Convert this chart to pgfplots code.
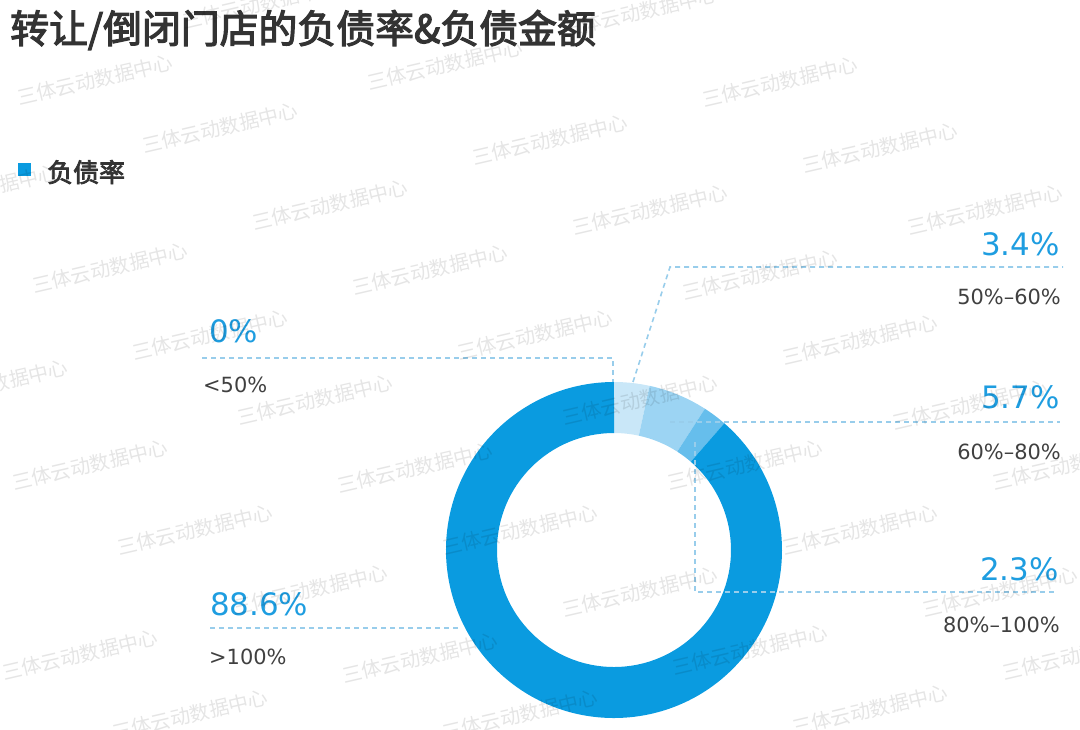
\documentclass[border=0pt]{standalone}
\usepackage{pgfplots}
\pgfplotsset{compat=1.18}
\usepackage{pgfplotstable}
\usepackage{fontspec}
\setmainfont{DejaVu Sans}
\newfontfamily\cjk{Noto Sans CJK SC}
\newfontfamily\cjkmed[FakeBold=3]{Noto Sans CJK SC}

\definecolor{seg0}{HTML}{E6F4FC}
\definecolor{seg1}{HTML}{C9E7F8}
\definecolor{seg2}{HTML}{9CD4F3}
\definecolor{seg3}{HTML}{66BEEC}
\definecolor{seg4}{HTML}{0A9BE0}
\definecolor{numblue}{HTML}{1E9DE0}
\definecolor{labgray}{HTML}{404040}
\definecolor{leader}{HTML}{98CDEB}
\definecolor{titlegray}{HTML}{333333}

% debt ratio of closed stores, share in %
\pgfplotstableread{
share col
0.0  seg0
3.4  seg1
5.7  seg2
2.3  seg3
88.6 seg4
}\debt

\begin{document}
\begin{tikzpicture}
\begin{axis}[
  hide axis, scale only axis,
  width=1080bp, height=730bp,
  xmin=0, xmax=1080, ymin=0, ymax=730,
  y dir=reverse, clip=false,
  ]
  % donut
  \def\cx{614}\def\cy{550}\def\Ro{168}\def\Ri{117}
  \gdef\angacc{90}
  \pgfplotsforeachungrouped \i in {0,...,4}{%
    \pgfplotstablegetelem{\i}{share}\of\debt \let\share\pgfplotsretval
    \pgfplotstablegetelem{\i}{col}\of\debt \let\segcol\pgfplotsretval
    \pgfmathsetmacro\angend{\angacc-3.6*\share}
    \pgfmathsetmacro\xo{\cx+\Ro*cos(\angacc)}
    \pgfmathsetmacro\yo{\cy-\Ro*sin(\angacc)}
    \pgfmathsetmacro\xin{\cx+\Ri*cos(\angend)}
    \pgfmathsetmacro\yin{\cy-\Ri*sin(\angend)}
    \edef\temp{\noexpand\fill[\segcol] (axis cs:\xo,\yo)
      arc[start angle=\angacc, end angle=\angend, radius=\Ro bp]
      -- (axis cs:\xin,\yin)
      arc[start angle=\angend, end angle=\angacc, radius=\Ri bp] -- cycle;}
    \temp
    \xdef\angacc{\angend}
  }

  % leader lines
  \begin{scope}[leader, dash pattern=on 5bp off 4bp, line width=1.6bp]
    \draw (axis cs:202,358) -- (axis cs:613,358) -- (axis cs:613,382);
    \draw (axis cs:633,382) -- (axis cs:670,267) -- (axis cs:1063,267);
    \draw (axis cs:670,422) -- (axis cs:1060,422);
    \draw (axis cs:695,442) -- (axis cs:695,592) -- (axis cs:1058,592);
    \draw (axis cs:210,628) -- (axis cs:462,628);
  \end{scope}

  % values and ranges
  \begin{scope}[inner sep=0pt]
    \node[anchor=base west, numblue, font=\fontsize{31}{32}\selectfont] at (axis cs:209,342) {0\%};
    \node[anchor=base west, labgray, font=\fontsize{21}{22}\selectfont] at (axis cs:203,392) {<50\%};
    \node[anchor=base east, numblue, font=\fontsize{31}{32}\selectfont] at (axis cs:1060,255) {3.4\%};
    \node[anchor=base east, labgray, font=\fontsize{21}{22}\selectfont] at (axis cs:1061,304) {50\%–60\%};
    \node[anchor=base east, numblue, font=\fontsize{31}{32}\selectfont] at (axis cs:1060,408) {5.7\%};
    \node[anchor=base east, labgray, font=\fontsize{21}{22}\selectfont] at (axis cs:1061,459) {60\%–80\%};
    \node[anchor=base east, numblue, font=\fontsize{31}{32}\selectfont] at (axis cs:1059,580) {2.3\%};
    \node[anchor=base east, labgray, font=\fontsize{21}{22}\selectfont] at (axis cs:1060,632) {80\%–100\%};
    \node[anchor=base west, numblue, font=\fontsize{31}{32}\selectfont] at (axis cs:210,615) {88.6\%};
    \node[anchor=base west, labgray, font=\fontsize{21}{22}\selectfont] at (axis cs:209,664) {>100\%};
  \end{scope}

  % title and legend
  \node[anchor=base west, inner sep=0pt, titlegray, font=\cjkmed\fontsize{39}{40}\selectfont]
    at (axis cs:10,43) {转让/倒闭门店的负债率\&负债金额};
  \fill[seg4] (axis cs:18,163) rectangle (axis cs:31,176);
  \node[anchor=base west, inner sep=0pt, titlegray, font=\cjkmed\fontsize{26}{26}\selectfont]
    at (axis cs:47,182) {负债率};
\end{axis}
% watermark (pixel positions, y from top)
\foreach \wx/\wy in {95/80,445/65,780/82,220/128,550/140,880/148,-20/190,330/205,650/210,985/210,
    110/268,430/270,760/275,210/335,535/335,860/340,-10/385,315/400,640/400,970/405,
    90/465,415/468,745/465,1070/465,195/530,520/530,860/530,310/590,640/592,1000/592,
    80/655,420/658,750/650,1080/655,190/715,520/715,870/710,640/12,260/4}{
  \node[rotate=13, text=black, text opacity=0.1, font=\cjk\fontsize{20}{20}\selectfont]
    at ({\wx*1bp},{(730-\wy)*1bp}) {三体云动数据中心};
}
\pgfresetboundingbox
\path (0,0) rectangle (1080bp,730bp);
\end{tikzpicture}
\end{document}
